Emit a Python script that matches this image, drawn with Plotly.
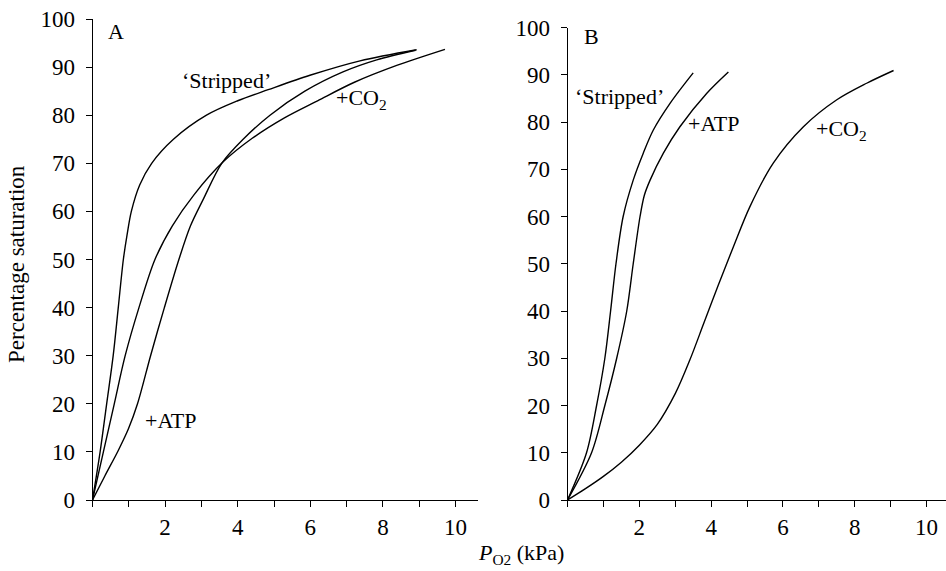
import plotly.graph_objects as go

# ---------------- data ----------------
# Panel A
a_stripped_x = [0, 0.21, 0.39, 0.57, 0.71, 0.85, 0.95, 1.07, 1.3, 1.63, 2.23, 3.14, 4.0, 4.84, 5.99, 7.37, 8.93]
a_stripped_y = [0, 10, 20, 30, 40, 50, 55, 60, 65.5, 70, 75, 80, 83.0, 85.3, 88.3, 91.3, 93.6]

a_atp_x = [0, 0.34, 0.71, 0.99, 1.24, 1.6, 1.98, 2.38, 2.7, 3.05, 3.56, 4.15, 4.89, 5.85, 6.9, 7.83, 8.9]
a_atp_y = [0, 5.0, 10.3, 14.8, 20, 30, 40, 50, 57, 62.5, 70, 75, 80, 85, 89, 91.5, 93.5]

a_co2_x = [0, 0.3, 0.6, 0.9, 1.28, 1.72, 2.2, 2.8, 3.6, 4.4, 5.3, 6.2, 7.2, 8.4, 9.71]
a_co2_y = [0, 10, 20, 30, 40, 50, 57, 63.5, 70.3, 75.2, 79.5, 83, 86.8, 90.4, 93.7]

# Panel B
b_stripped_x = [0, 0.53, 0.81, 1.04, 1.2, 1.35, 1.55, 1.83, 2.11, 2.39, 2.86, 3.5]
b_stripped_y = [0, 10, 20, 30, 40, 50, 60, 67.7, 73.4, 78.3, 84, 90.4]

b_atp_x = [0, 0.67, 1.04, 1.37, 1.65, 1.83, 2.02, 2.14, 2.3, 2.67, 3.13, 3.88, 4.48]
b_atp_y = [0, 10, 20, 30, 40, 50, 60, 64.5, 67.7, 73.4, 79, 86.1, 90.6]

b_co2_x = [0, 0.5, 1.0, 1.5, 2.0, 2.5, 3.0, 3.4, 3.8, 4.2, 4.62, 5.08, 5.73, 6.57, 7.5, 8.33, 9.08]
b_co2_y = [0, 2.4, 5, 8, 11.6, 16, 22.5, 29.5, 37.5, 45.5, 53.6, 62.1, 71.3, 79, 84.7, 88.2, 90.9]

y_ticks = list(range(0, 101, 10))
x_ticks = list(range(0, 11))
x_ticktext = ["", "", "2", "", "4", "", "6", "", "8", "", "10"]

FONT = "Liberation Serif, Times New Roman, serif"
W, H = 946, 571

fig = go.Figure()
line = dict(color="black", width=1.4, shape="spline", smoothing=0.9)
for xs, ys, xa, ya in [
    (a_stripped_x, a_stripped_y, "x", "y"),
    (a_atp_x, a_atp_y, "x", "y"),
    (a_co2_x, a_co2_y, "x", "y"),
    (b_stripped_x, b_stripped_y, "x2", "y2"),
    (b_atp_x, b_atp_y, "x2", "y2"),
    (b_co2_x, b_co2_y, "x2", "y2"),
]:
    fig.add_trace(go.Scatter(x=xs, y=ys, mode="lines", line=line, xaxis=xa, yaxis=ya,
                             showlegend=False, hoverinfo="skip"))

axis_common = dict(showgrid=False, zeroline=False, showline=True, linecolor="black", linewidth=1,
                   ticks="outside", tickcolor="black", ticklen=6, tickwidth=1, automargin=False,
                   tickfont=dict(family=FONT, size=23, color="black"), fixedrange=True)

fig.update_layout(
    width=W, height=H, autosize=False,
    margin=dict(l=0, r=0, t=0, b=0, pad=0, autoexpand=False),
    paper_bgcolor="white", plot_bgcolor="white",
    xaxis=dict(domain=[92.5 / W, 478 / W], range=[0, 10.62], anchor="y",
               tickvals=x_ticks, ticktext=x_ticktext, **axis_common),
    yaxis=dict(domain=[1 - 500 / H, 1 - 19 / H], range=[0, 100], anchor="x",
               tickvals=y_ticks, ticklabelstandoff=6, **axis_common),
    xaxis2=dict(domain=[567.5 / W, 1.0], range=[0, 10.54], anchor="y2",
                tickvals=x_ticks, ticktext=x_ticktext, **axis_common),
    yaxis2=dict(domain=[1 - 500 / H, 1 - 27.5 / H], range=[0, 100], anchor="x2",
                tickvals=y_ticks, ticklabelstandoff=6, **axis_common),
)

tf = dict(family=FONT, size=22, color="black")
labels = [
    ("A", 0.65, 97.3, "x", "y"),
    ("‘Stripped’", 3.7, 87.2, "x", "y"),
    ("+CO<sub>2</sub>", 7.42, 83.3, "x", "y"),
    ("+ATP", 2.16, 16.5, "x", "y"),
    ("B", 0.68, 98.2, "x2", "y2"),
    ("‘Stripped’", 1.46, 85.4, "x2", "y2"),
    ("+ATP", 4.08, 79.6, "x2", "y2"),
    ("+CO<sub>2</sub>", 7.64, 78.4, "x2", "y2"),
]
for t, x, y, xr, yr in labels:
    fig.add_annotation(text=t, x=x, y=y, xref=xr, yref=yr, showarrow=False,
                       font=tf, xanchor="center", yanchor="middle")

fig.add_annotation(text="Percentage saturation", x=16 / W, y=1 - 264 / H, xref="paper", yref="paper",
                   showarrow=False, textangle=-90, font=dict(family=FONT, size=23, color="black"),
                   xanchor="center", yanchor="middle")
fig.add_annotation(text="<i>P</i><sub>O2</sub> (kPa)", x=521 / W, y=1 - 554 / H, xref="paper", yref="paper",
                   showarrow=False, font=tf, xanchor="center", yanchor="middle")

fig.write_html("out.html", config={"displayModeBar": False})
